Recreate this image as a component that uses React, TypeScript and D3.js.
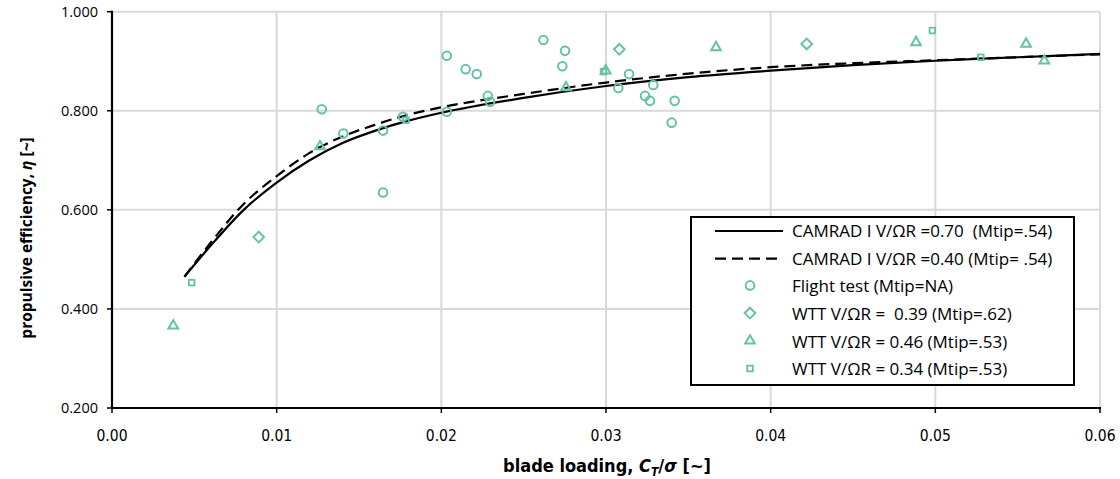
import React from "react";
import * as d3 from "d3";

// ---- data ----
const xTicks = [0, 0.01, 0.02, 0.03, 0.04, 0.05, 0.06];
const yTicks = [0.2, 0.4, 0.6, 0.8, 1.0];

const camradX = [0.0044, 0.006, 0.008, 0.010, 0.012, 0.014, 0.016, 0.018, 0.020, 0.025, 0.030, 0.035, 0.040, 0.045, 0.050, 0.055, 0.060];
const camrad070 = [0.465, 0.528, 0.600, 0.655, 0.700, 0.735, 0.760, 0.780, 0.796, 0.826, 0.850, 0.868, 0.881, 0.892, 0.901, 0.908, 0.915];
const camrad040 = [0.465, 0.534, 0.612, 0.668, 0.715, 0.748, 0.772, 0.792, 0.807, 0.834, 0.857, 0.875, 0.888, 0.896, 0.902, 0.908, 0.914];

const flightX = [0.01274, 0.01405, 0.01646, 0.01767, 0.01646, 0.02033, 0.02033, 0.02148, 0.02215, 0.02282, 0.02296, 0.02620, 0.02751, 0.02735, 0.03075, 0.03140, 0.03287, 0.03237, 0.03267, 0.03417, 0.03399];
const flightY = [0.803, 0.754, 0.760, 0.788, 0.635, 0.911, 0.798, 0.884, 0.874, 0.830, 0.818, 0.943, 0.921, 0.890, 0.846, 0.874, 0.852, 0.830, 0.820, 0.820, 0.776];

const wtt039X = [0.00891, 0.03081, 0.04219];
const wtt039Y = [0.545, 0.924, 0.935];

const wtt046X = [0.00372, 0.01263, 0.02757, 0.02998, 0.03668, 0.04883, 0.05551, 0.05662];
const wtt046Y = [0.366, 0.728, 0.847, 0.881, 0.928, 0.938, 0.935, 0.901];

const wtt034X = [0.00484, 0.01785, 0.02985, 0.04982, 0.05276];
const wtt034Y = [0.453, 0.781, 0.879, 0.962, 0.908];

const legendLabels = [
  "CAMRAD I V/\u03A9R =0.70  (Mtip=.54)",
  "CAMRAD I V/\u03A9R =0.40 (Mtip= .54)",
  "Flight test (Mtip=NA)",
  "WTT V/\u03A9R =  0.39 (Mtip=.62)",
  "WTT V/\u03A9R = 0.46 (Mtip=.53)",
  "WTT V/\u03A9R = 0.34 (Mtip=.53)",
];

const W = 1120;
const H = 479;
const GREEN = "#66c2a5";
const SANS = "'Open Sans', 'Noto Sans', sans-serif";
const COND = "'Liberation Sans Narrow', 'DejaVu Sans Condensed', 'Roboto Condensed', sans-serif";

const x = d3.scaleLinear().domain([0, 0.06]).range([112, 1100]);
const y = d3.scaleLinear().domain([0.2, 1.0]).range([408, 11.7]);

type Kind = "circle" | "diamond" | "triangle" | "square";

function Marker({ kind, cx, cy }: { kind: Kind; cx: number; cy: number }) {
  if (kind === "circle")
    return <circle cx={cx} cy={cy} r={4.3} fill="none" stroke={GREEN} strokeWidth={2} />;
  if (kind === "diamond") {
    const p = d3.symbol().type(d3.symbolDiamond2).size(72)();
    return <path d={p || ""} transform={`translate(${cx},${cy})`} fill="none" stroke={GREEN} strokeWidth={2} />;
  }
  if (kind === "triangle") {
    const p = d3.symbol().type(d3.symbolTriangle2).size(66)();
    return <path d={p || ""} transform={`translate(${cx},${cy})`} fill="none" stroke={GREEN} strokeWidth={2} />;
  }
  return <rect x={cx - 2.8} y={cy - 2.8} width={5.6} height={5.6} fill="none" stroke={GREEN} strokeWidth={1.8} />;
}

export default function App() {
  const line = d3
    .line<number>()
    .x((_, i) => x(camradX[i]))
    .y((d) => y(d))
    .curve(d3.curveMonotoneX);

  const series: { kind: Kind; xs: number[]; ys: number[] }[] = [
    { kind: "circle", xs: flightX, ys: flightY },
    { kind: "diamond", xs: wtt039X, ys: wtt039Y },
    { kind: "triangle", xs: wtt046X, ys: wtt046Y },
    { kind: "square", xs: wtt034X, ys: wtt034Y },
  ];

  const legX = 691;
  const legY = 217;
  const legW = 383;
  const legH = 168;
  const rowY = (i: number) => 231 + i * 27.7;
  const legendKinds: (Kind | "solid" | "dashed")[] = ["solid", "dashed", "circle", "diamond", "triangle", "square"];
  const dash = "11,6";

  return (
    <svg width={W} height={H} style={{ position: "absolute", left: 0, top: 0, background: "#fff" }}>
      {/* gridlines */}
      {xTicks.slice(1).map((t) => (
        <line key={"gx" + t} x1={x(t)} x2={x(t)} y1={y(1.0)} y2={y(0.2)} stroke="#d9d9d9" strokeWidth={2} />
      ))}
      {yTicks.slice(1).map((t) => (
        <line key={"gy" + t} x1={x(0)} x2={x(0.06)} y1={y(t)} y2={y(t)} stroke="#d9d9d9" strokeWidth={2} />
      ))}

      {/* curves */}
      <path d={line(camrad070) || ""} fill="none" stroke="#000" strokeWidth={2.2} />
      <path d={line(camrad040) || ""} fill="none" stroke="#000" strokeWidth={2.2} strokeDasharray={dash} />

      {/* markers */}
      {series.map((s) =>
        s.xs.map((xv, i) => <Marker key={s.kind + i} kind={s.kind} cx={x(xv)} cy={y(s.ys[i])} />)
      )}

      {/* axes */}
      <line x1={x(0)} x2={x(0)} y1={y(1.0) - 1} y2={y(0.2) + 1} stroke="#000" strokeWidth={2.2} />
      <line x1={x(0) - 1} x2={x(0.06) + 1} y1={y(0.2)} y2={y(0.2)} stroke="#000" strokeWidth={2.2} />
      {yTicks.map((t) => (
        <g key={"yt" + t}>
          <line x1={x(0) - 5} x2={x(0)} y1={y(t)} y2={y(t)} stroke="#000" strokeWidth={1.5} />
          <text x={98} y={y(t)} dy="0.35em" textAnchor="end" fontFamily={SANS} fontSize={14.5} fill="#000">
            {d3.format(".3f")(t)}
          </text>
        </g>
      ))}
      {xTicks.map((t) => (
        <g key={"xt" + t}>
          <line x1={x(t)} x2={x(t)} y1={y(0.2)} y2={y(0.2) + 5} stroke="#000" strokeWidth={1.5} />
          <text x={x(t)} y={441} textAnchor="middle" fontFamily={COND} fontSize={15.5} fill="#000">
            {d3.format(".2f")(t)}
          </text>
        </g>
      ))}

      {/* axis titles */}
      <text
        transform={`translate(32,238) rotate(-90)`}
        textAnchor="middle"
        fontFamily={SANS}
        fontWeight="bold"
        fontSize={15.5}
        fill="#000"
      >
        propulsive efficiency, <tspan fontStyle="italic">{"\u03B7"}</tspan> [~]
      </text>
      <text x={607} y={472} textAnchor="middle" fontFamily={COND} fontWeight="bold" fontSize={18} fill="#000">
        blade loading, <tspan fontStyle="italic">C</tspan>
        <tspan fontStyle="italic" fontSize={12} dy={4}>T</tspan>
        <tspan dy={-4}>/</tspan>
        <tspan fontStyle="italic">{"\u03C3"}</tspan> [~]
      </text>

      {/* legend */}
      <rect x={legX} y={legY} width={legW} height={legH} fill="#fff" stroke="#000" strokeWidth={2} />
      {legendKinds.map((k, i) => (
        <g key={"lg" + i}>
          {k === "solid" && <line x1={715} x2={783} y1={rowY(i)} y2={rowY(i)} stroke="#000" strokeWidth={2.2} />}
          {k === "dashed" && (
            <line x1={715} x2={783} y1={rowY(i)} y2={rowY(i)} stroke="#000" strokeWidth={2.2} strokeDasharray={dash} />
          )}
          {k !== "solid" && k !== "dashed" && <Marker kind={k as Kind} cx={750} cy={rowY(i) - 1} />}
          <text
            x={792}
            y={rowY(i)}
            dy="0.35em"
            fontFamily={SANS}
            fontSize={17}
            fill="#000"
            style={{ whiteSpace: "pre" }}
          >
            {legendLabels[i]}
          </text>
        </g>
      ))}
    </svg>
  );
}
